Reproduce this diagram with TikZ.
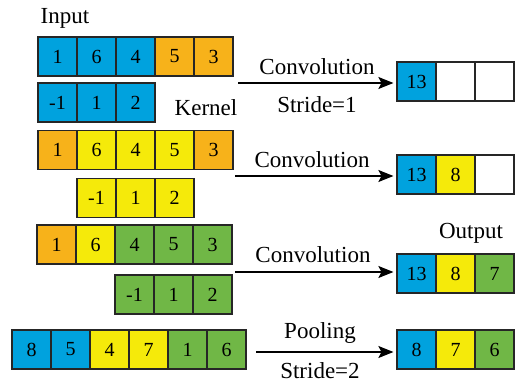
\documentclass[tikz,border=0pt]{standalone}
\usepackage{fontspec}
\setmainfont{Liberation Serif}
\usetikzlibrary{arrows.meta}
\definecolor{cblue}{RGB}{0,162,222}
\definecolor{corange}{RGB}{247,178,26}
\definecolor{cyellow}{RGB}{245,234,10}
\definecolor{cgreen}{RGB}{112,183,70}
\tikzset{
  cell/.style={draw=black!85, line width=1.2pt, minimum width=39pt, minimum height=39pt, inner sep=0pt, font=\rmfamily\fontsize{20}{20}\selectfont},
  lbl/.style={font=\rmfamily\fontsize{23}{24}\selectfont, inner sep=0pt},
  arr/.style={line width=1.2pt, -{Stealth[length=15pt,width=12pt,inset=3pt]}, shorten >=3pt},
}
\newcommand{\cellrow}[4]{% name, x0, yc, list of color/text
  \foreach \c/\t [count=\i from 0] in {#4}{
    \node[cell, fill=\c] (#1\i) at (#2+19.5+39*\i, #3) {\t};
  }
}
\begin{document}
\begin{tikzpicture}[x=1pt,y=-1pt]
\useasboundingbox (0,0) rectangle (518,379);
% input rows
\cellrow{a}{38}{56.5}{cblue/1,cblue/6,cblue/4,corange/5,corange/3}
\cellrow{ka}{38}{102.5}{cblue/-1,cblue/1,cblue/2}
\cellrow{b}{38}{150}{corange/1,cyellow/6,cyellow/4,cyellow/5,corange/3}
\cellrow{kb}{77}{198}{cyellow/-1,cyellow/1,cyellow/2}
\cellrow{c}{37}{244.5}{corange/1,cyellow/6,cgreen/4,cgreen/5,cgreen/3}
\cellrow{kc}{115}{294.5}{cgreen/-1,cgreen/1,cgreen/2}
\cellrow{d}{12}{349.5}{cblue/8,cblue/5,cyellow/4,cyellow/7,cgreen/1,cgreen/6}
% outputs
\cellrow{oa}{397}{81.5}{cblue/13,white/,white/}
\cellrow{ob}{397}{174.5}{cblue/13,cyellow/8,white/}
\cellrow{oc}{397}{273.5}{cblue/13,cyellow/8,cgreen/7}
\cellrow{od}{397}{349.5}{cblue/8,cyellow/7,cgreen/6}
% labels
\node[lbl] (input) at (65,18) {Input};
\node[lbl] (kernel) at (206,108) {Kernel};
\node[lbl] (output) at (471,233) {Output};
% arrows
\coordinate (sa) at (238,83);
\coordinate (sb) at (235,176);
\coordinate (sc) at (235,272);
\coordinate (sd) at (256,352);
\draw[arr] (sa) -- (oa0.west |- sa);
\draw[arr] (sb) -- (ob0.west |- sb);
\draw[arr] (sc) -- (oc0.west |- sc);
\draw[arr] (sd) -- (od0.west |- sd);
\node[lbl] (ca) at (317,67) {Convolution};
\node[lbl] (stra) at (317,105) {Stride=1};
\node[lbl] (cb) at (312,160) {Convolution};
\node[lbl] (cc) at (313,255) {Convolution};
\node[lbl] (pd) at (320,333) {Pooling};
\node[lbl] (strd) at (320,371) {Stride=2};
\end{tikzpicture}
\end{document}
